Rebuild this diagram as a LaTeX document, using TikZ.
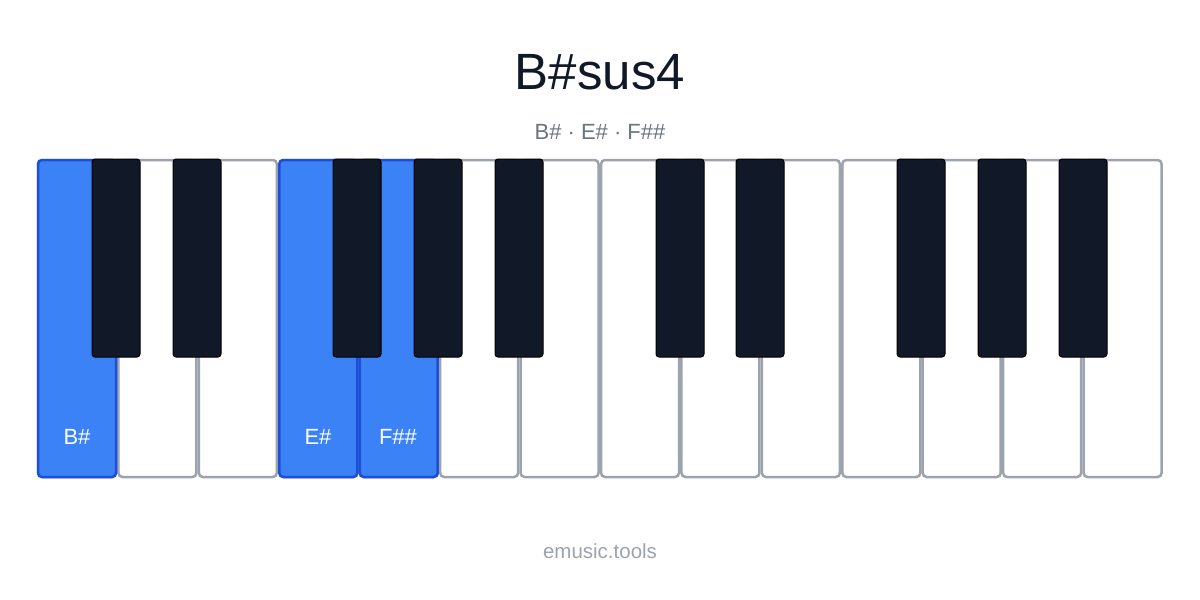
\documentclass[tikz,border=0pt]{standalone}
\usepackage{fontspec}
\setmainfont{Liberation Sans}
\definecolor{keyblue}{HTML}{3B82F6}
\definecolor{keyblueline}{HTML}{1D4ED8}
\definecolor{keyblack}{HTML}{111827}
\definecolor{keygray}{HTML}{9CA3AF}
\definecolor{subgray}{HTML}{6B7280}
\tikzset{
  white key/.style={draw=keygray, line width=2.5pt, fill=white, rounded corners=4pt},
  lit key/.style={draw=keyblueline, line width=2.5pt, fill=keyblue, rounded corners=4pt},
  black key/.style={draw=black, line width=1pt, fill=keyblack, rounded corners=3pt},
  key label/.style={text=white, font=\fontsize{22}{22}\selectfont}
}
\begin{document}
\begin{tikzpicture}[x=1pt, y=-1pt]
\useasboundingbox (0,0) rectangle (1200,600);
\node[text=keyblack, font=\fontsize{51}{51}\selectfont] (title) at (600,72) {B\#sus4};
\node[text=subgray, font=\fontsize{22}{22}\selectfont] (notes) at (600,132) {B\# · E\# · F\#\#};
% white keys
\foreach \i in {0,...,13}
  \draw[white key] ({38+\i*80.43},160) rectangle ({38+\i*80.43+78},477);
\foreach \i in {0,3,4}
  \draw[lit key] ({38+\i*80.43},160) rectangle ({38+\i*80.43+78},477);
% black keys
\foreach \c in {116,197,357,438,519,680,760,921,1002,1083}
  \draw[black key] ({\c-24},159) rectangle ({\c+24},357);
\node[key label] (bsharp) at (77,437) {B\#};
\node[key label] (esharp) at (318,437) {E\#};
\node[key label] (fdsharp) at (398,437) {F\#\#};
\node[text=keygray, font=\fontsize{20.5}{20.5}\selectfont] (site) at (600,551) {emusic.tools};
\end{tikzpicture}
\end{document}
